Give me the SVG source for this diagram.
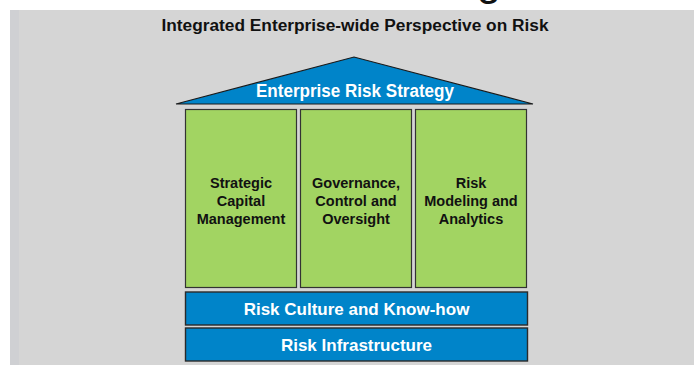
<svg xmlns="http://www.w3.org/2000/svg" width="694" height="366" viewBox="0 0 694 366">
<style>
.bg{fill:#d5d5d5}
.pillar{fill:#a2d462;stroke:#333;stroke-width:1.2}
.bar{fill:#0084c9;stroke:#2a2a2a;stroke-width:1.4}
.roof{fill:#0084c9;stroke:#1a1a1a;stroke-width:1.2;stroke-linejoin:miter}
text{font-family:"Liberation Sans",Arial,sans-serif;font-weight:bold;text-anchor:middle}
.w{fill:#ffffff}
.k{fill:#111111}
.p{font-size:14.5px}
</style>
<rect x="0" y="0" width="694" height="366" fill="#ffffff"/>
<rect class="bg" x="10" y="10" width="684" height="355"/>
<rect x="10" y="10" width="9" height="355" fill="#cfd0d3"/>
<text x="489" y="-5" font-size="44" class="k" style="font-weight:normal">g</text>
<text id="title" x="355" y="31" font-size="16" class="k" textLength="387" lengthAdjust="spacingAndGlyphs">Integrated Enterprise-wide Perspective on Risk</text>
<g id="roof">
<polygon class="roof" points="176,104 354,57 533,104"/>
<text x="355" y="97" font-size="17.5" class="w" textLength="198" lengthAdjust="spacingAndGlyphs">Enterprise Risk Strategy</text>
</g>
<g id="pillar1">
<rect class="pillar" x="185.5" y="109.5" width="111" height="178"/>
<text x="241" y="188" class="k p">Strategic</text>
<text x="241" y="206" class="k p">Capital</text>
<text x="241" y="224" class="k p">Management</text>
</g>
<g id="pillar2">
<rect class="pillar" x="300.5" y="109.5" width="111" height="178"/>
<text x="356" y="188" class="k p">Governance,</text>
<text x="356" y="206" class="k p">Control and</text>
<text x="356" y="224" class="k p">Oversight</text>
</g>
<g id="pillar3">
<rect class="pillar" x="415.5" y="109.5" width="111" height="178"/>
<text x="471" y="188" class="k p">Risk</text>
<text x="471" y="206" class="k p">Modeling and</text>
<text x="471" y="224" class="k p">Analytics</text>
</g>
<g id="culture">
<rect class="bar" x="185.5" y="292" width="342" height="33"/>
<text x="356.5" y="315" font-size="17" class="w">Risk Culture and Know-how</text>
</g>
<g id="infrastructure">
<rect class="bar" x="185.5" y="328" width="342" height="33"/>
<text x="356.5" y="351" font-size="17" class="w">Risk Infrastructure</text>
</g>
<g id="connectors"></g>
</svg>
